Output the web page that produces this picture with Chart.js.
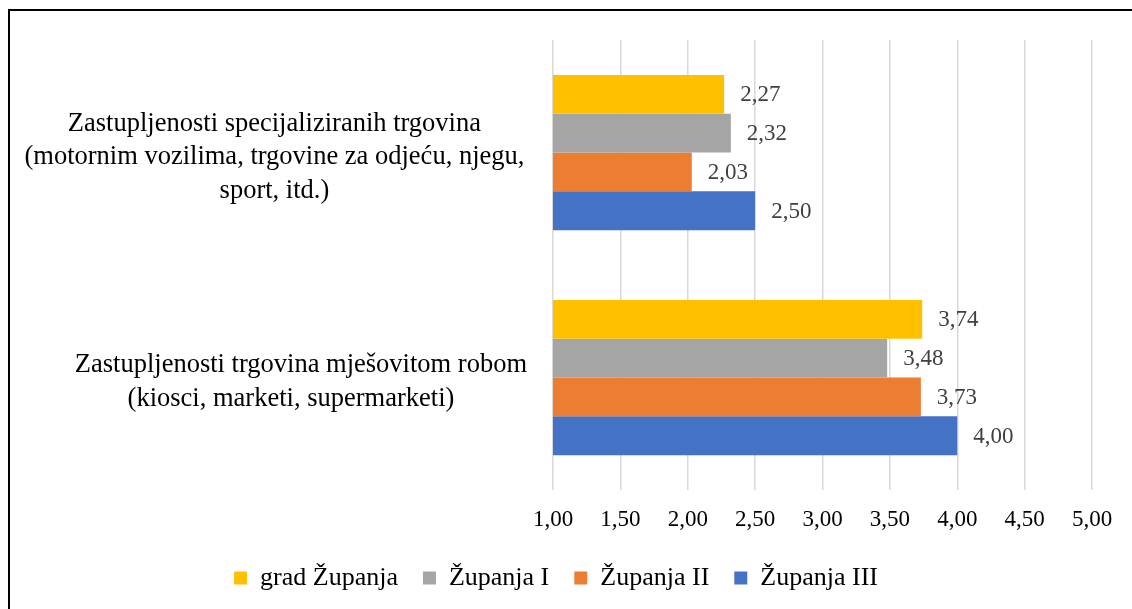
<!DOCTYPE html>
<html>
<head>
<meta charset="utf-8">
<script src="https://cdn.jsdelivr.net/npm/chart.js@4"></script>
<style>
  html, body { margin: 0; padding: 0; background: #fff; overflow: hidden; }
  #frame { position: absolute; left: 8px; top: 9px; width: 1140px; height: 620px; border: 2px solid #000; }
  #wrap { position: absolute; left: 0; top: 0; width: 1132px; height: 609px; }
</style>
</head>
<body>
<div id="frame"></div>
<div id="wrap"><canvas id="chart"></canvas></div>
<script>
var categories = [
  ['Zastupljenosti specijaliziranih trgovina', '(motornim vozilima, trgovine za odjeću, njegu,', 'sport, itd.)'],
  ['Zastupljenosti trgovina mješovitom robom', '(kiosci, marketi, supermarketi)']
];
var seriesNames = ['grad Županja', 'Županja I', 'Županja II', 'Županja III'];
var gradZupanja = [2.27, 3.74];
var zupanjaI = [2.32, 3.48];
var zupanjaII = [2.03, 3.73];
var zupanjaIII = [2.50, 4.00];
var colors = ['#FFC000', '#A5A5A5', '#ED7D31', '#4472C4'];

function fmt(v) {
  return Number(v).toFixed(2).replace('.', ',');
}

// value labels next to the bar ends
var valueLabels = {
  id: 'valueLabels',
  afterDatasetsDraw: function(chart) {
    var ctx = chart.ctx;
    ctx.save();
    ctx.font = '23px "Liberation Serif"';
    ctx.fillStyle = '#404040';
    ctx.textAlign = 'left';
    ctx.textBaseline = 'middle';
    chart.data.datasets.forEach(function(ds, i) {
      chart.getDatasetMeta(i).data.forEach(function(bar, j) {
        ctx.fillText(fmt(ds.data[j]), bar.x + 16, bar.y + 1);
      });
    });
    ctx.restore();
  }
};

var allSeries = [gradZupanja, zupanjaI, zupanjaII, zupanjaIII];

var ctx = document.getElementById('chart');
var myBarChart = new Chart(ctx, {
  type: 'bar',
  data: {
    labels: categories,
    datasets: allSeries.map(function(d, i) {
      return {
        label: seriesNames[i],
        data: d,
        backgroundColor: colors[i],
        borderWidth: 0,
        barPercentage: 1,
        categoryPercentage: 0.69
      };
    })
  },
  options: {
    indexAxis: 'y',
    responsive: true,
    maintainAspectRatio: false,
    animation: false,
    layout: {
      padding: { left: 20, right: 40, top: 40, bottom: 8 }
    },
    scales: {
      x: {
        min: 1,
        max: 5,
        border: { display: false },
        grid: { color: '#D9D9D9', lineWidth: 1.5, drawTicks: false },
        afterFit: function(scale) { scale.height = 50; },
        ticks: {
          stepSize: 0.5,
          padding: 16,
          color: '#000',
          font: { family: 'Liberation Serif', size: 23 },
          callback: function(v) { return fmt(v); }
        }
      },
      y: {
        border: { display: false },
        grid: { display: false, drawTicks: false },
        afterFit: function(scale) {
          scale.width = 533;
          scale.paddingTop = 0;
          scale.paddingBottom = 0;
        },
        ticks: {
          crossAlign: 'center',
          padding: 26,
          labelOffset: 5,
          color: '#000',
          font: { family: 'Liberation Serif', size: 26.5, lineHeight: 1.28 },
          callback: function(v, i) {
            var lbl = this.getLabelForValue(v);
            // the second label sits a bit right of centre in the original
            if (i === 1) {
              return lbl.map(function(s, k) { return ' '.repeat(k === 0 ? 8 : 5) + s; });
            }
            return lbl;
          }
        }
      }
    },
    plugins: {
      legend: {
        position: 'bottom',
        labels: {
          boxWidth: 13,
          boxHeight: 13,
          padding: 25,
          color: '#000',
          font: { family: 'Liberation Serif', size: 26 }
        }
      },
      tooltip: { enabled: false }
    }
  },
  plugins: [valueLabels]
});
</script>
</body>
</html>
